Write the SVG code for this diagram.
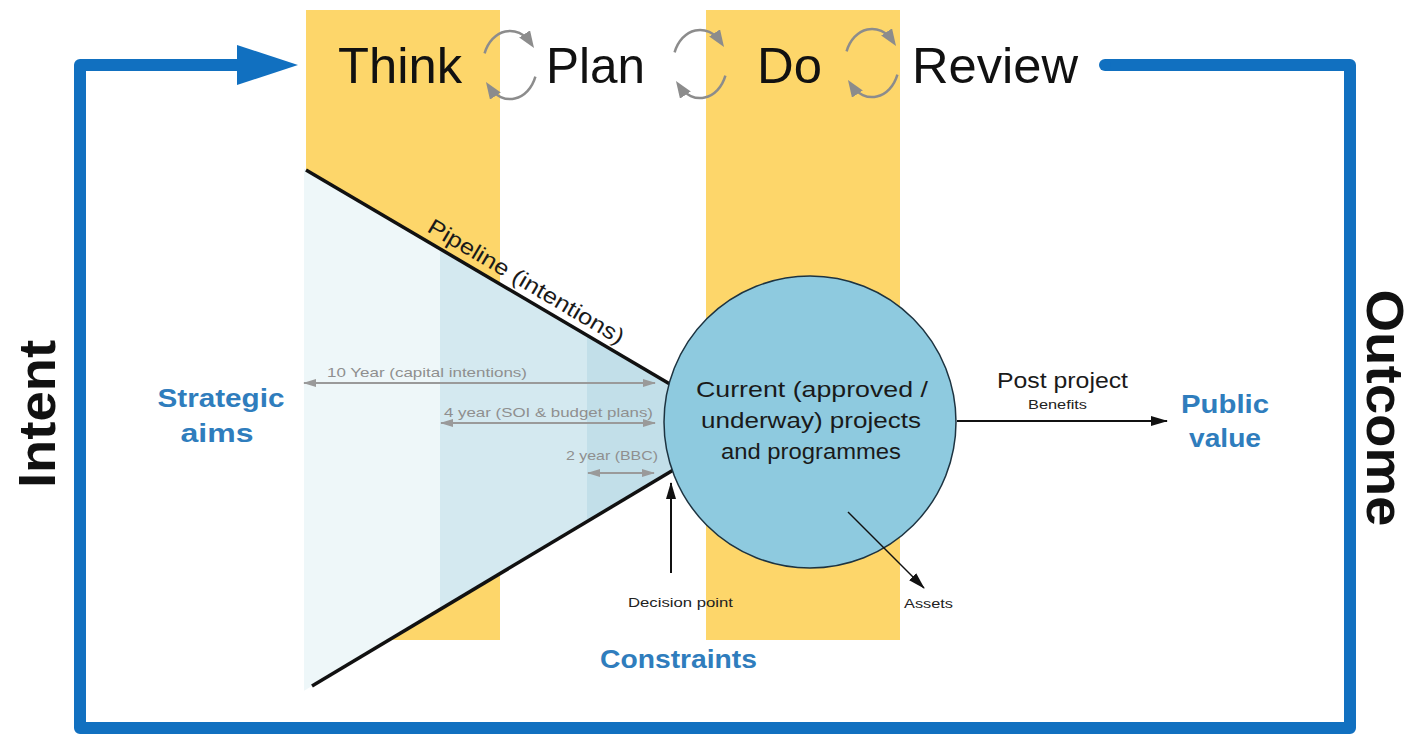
<svg xmlns="http://www.w3.org/2000/svg" xmlns:xlink="http://www.w3.org/1999/xlink" width="1414" height="735" viewBox="0 0 1414 735">
<style>
  text { font-family: "Liberation Sans", Arial, sans-serif; }
  .band { fill: #fdd66a; }
  .stage { font-size: 50px; fill: #111; }
  .big { font-size: 52px; font-weight: bold; fill: #111; }
  .blue { font-size: 26px; font-weight: bold; fill: #2f7dbd; }
  .gray { font-size: 13px; fill: #8f8f8f; }
  .small { font-size: 12px; fill: #222; }
  .mid { font-size: 22px; fill: #1a1a1a; }
  .frame { fill: none; stroke: #1170c0; stroke-width: 12; stroke-linejoin: round; }
  .edge { stroke: #111; stroke-width: 3.5; fill: none; }
  .range { stroke: #9a9a9a; stroke-width: 2; fill: none; marker-start: url(#grayHead); marker-end: url(#grayHead); }
  .cyc { stroke: #8c8c8c; stroke-width: 2.5; fill: none; marker-end: url(#cycHead); }
  .conn { stroke: #111; fill: none; marker-end: url(#blackHead); }
</style>
<defs>
  <marker id="grayHead" markerUnits="userSpaceOnUse" markerWidth="14" markerHeight="10" refX="12" refY="4" orient="auto-start-reverse">
    <path d="M0,0 L13,4 L0,8 z" fill="#9a9a9a"/>
  </marker>
  <marker id="cycHead" markerUnits="userSpaceOnUse" markerWidth="18" markerHeight="14" refX="11" refY="6.5" orient="auto">
    <path d="M0,0 L17,6.5 L0,13 z" fill="#8c8c8c"/>
  </marker>
  <marker id="blackHead" markerUnits="userSpaceOnUse" markerWidth="18" markerHeight="12" refX="16" refY="5" orient="auto">
    <path d="M0,0 L17,5 L0,10 z" fill="#111"/>
  </marker>
  <g id="cycle">
    <path class="cyc" d="M -25.4 -11.6 A 27 34 0 0 1 20.7 -21.9"/>
    <path class="cyc" d="M 25.4 11.6 A 27 34 0 0 1 -20.7 21.9"/>
  </g>
</defs>

<rect width="1414" height="735" fill="#ffffff"/>

<!-- phase bands -->
<g id="think-band"><rect class="band" x="306" y="10" width="194" height="630"/></g>
<g id="do-band"><rect class="band" x="706" y="10" width="194" height="630"/></g>

<!-- frame -->
<g id="frame">
  <path class="frame" d="M 1105 65 H 1350 V 728 H 80 V 65 H 242"/>
  <circle cx="1105" cy="65" r="6" fill="#1170c0"/>
  <polygon points="237,45 298,65 237,85" fill="#1170c0"/>
</g>

<!-- pipeline funnel -->
<g id="pipeline">
  <polygon points="304,168.8 440,248.8 440,609.5 304,690.8" fill="#eef7f9"/>
  <polygon points="440,248.8 587,335.1 587,521.6 440,609.5" fill="#d4e9f0"/>
  <polygon points="587,335.1 680,389.8 680,466 587,521.6" fill="#c2dfe9"/>
  <line class="edge" x1="306" y1="170" x2="680" y2="390"/>
  <line class="edge" x1="312" y1="686" x2="680" y2="466"/>
  <text class="mid" transform="translate(426,231) rotate(30.6)" textLength="224" lengthAdjust="spacingAndGlyphs">Pipeline (intentions)</text>
</g>

<!-- range arrows -->
<g id="ranges">
  <line class="range" x1="304" y1="383" x2="655" y2="383"/>
  <text class="gray" x="327" y="377" textLength="200" lengthAdjust="spacingAndGlyphs">10 Year (capital intentions)</text>
  <line class="range" x1="441" y1="423" x2="655" y2="423"/>
  <text class="gray" x="444" y="417" textLength="209" lengthAdjust="spacingAndGlyphs">4 year (SOI &amp; budget plans)</text>
  <line class="range" x1="588" y1="473" x2="654" y2="473"/>
  <text class="gray" x="566" y="460" textLength="92" lengthAdjust="spacingAndGlyphs">2 year (BBC)</text>
</g>

<!-- current projects -->
<g id="current">
  <circle cx="810" cy="422" r="146" fill="#8ecadf" stroke="#1d3340" stroke-width="1.5"/>
  <text class="mid" x="812" y="397" text-anchor="middle" textLength="232" lengthAdjust="spacingAndGlyphs">Current (approved /</text>
  <text class="mid" x="811" y="428" text-anchor="middle" textLength="220" lengthAdjust="spacingAndGlyphs">underway) projects</text>
  <text class="mid" x="811" y="459" text-anchor="middle" textLength="180" lengthAdjust="spacingAndGlyphs">and programmes</text>
</g>

<!-- connectors -->
<g id="connectors">
  <line class="conn" stroke-width="2" x1="671" y1="573" x2="671" y2="483"/>
  <line class="conn" stroke-width="1.5" x1="848" y1="512" x2="924" y2="588"/>
  <line class="conn" stroke-width="2" x1="957" y1="421" x2="1167" y2="421"/>
</g>

<!-- stage words -->
<g id="stages">
  <text class="stage" x="338" y="83" textLength="124" lengthAdjust="spacingAndGlyphs">Think</text>
  <text class="stage" x="546" y="83" textLength="99" lengthAdjust="spacingAndGlyphs">Plan</text>
  <text class="stage" x="757" y="83" textLength="65" lengthAdjust="spacingAndGlyphs">Do</text>
  <text class="stage" x="912" y="83" textLength="166" lengthAdjust="spacingAndGlyphs">Review</text>
</g>

<!-- cycles -->
<g id="cycles">
  <use xlink:href="#cycle" href="#cycle" x="510" y="65"/>
  <use xlink:href="#cycle" href="#cycle" x="700" y="64"/>
  <use xlink:href="#cycle" href="#cycle" x="872" y="63"/>
</g>

<!-- labels -->
<g id="strategic-aims">
  <text class="blue" x="221" y="407" text-anchor="middle" textLength="127" lengthAdjust="spacingAndGlyphs">Strategic</text>
  <text class="blue" x="217" y="442" text-anchor="middle" textLength="73" lengthAdjust="spacingAndGlyphs">aims</text>
</g>
<g id="public-value">
  <text class="blue" x="1225" y="413" text-anchor="middle" textLength="88" lengthAdjust="spacingAndGlyphs">Public</text>
  <text class="blue" x="1225" y="447" text-anchor="middle" textLength="72" lengthAdjust="spacingAndGlyphs">value</text>
</g>
<g id="constraints">
  <text class="blue" x="600" y="668" textLength="157" lengthAdjust="spacingAndGlyphs">Constraints</text>
</g>
<g id="post-project">
  <text class="mid" x="997" y="388" textLength="131" lengthAdjust="spacingAndGlyphs">Post project</text>
  <text class="small" x="1028" y="409" font-size="11" textLength="59" lengthAdjust="spacingAndGlyphs">Benefits</text>
</g>
<g id="decision-point">
  <text class="small" x="628" y="607" font-size="13" textLength="105" lengthAdjust="spacingAndGlyphs">Decision point</text>
</g>
<g id="assets">
  <text class="small" x="904" y="608" textLength="49" lengthAdjust="spacingAndGlyphs">Assets</text>
</g>
<g id="intent">
  <text class="big" transform="translate(55,414) rotate(-90)" text-anchor="middle" textLength="148" lengthAdjust="spacingAndGlyphs">Intent</text>
</g>
<g id="outcome">
  <text class="big" transform="translate(1367,408) rotate(90)" text-anchor="middle" textLength="237" lengthAdjust="spacingAndGlyphs">Outcome</text>
</g>
</svg>
